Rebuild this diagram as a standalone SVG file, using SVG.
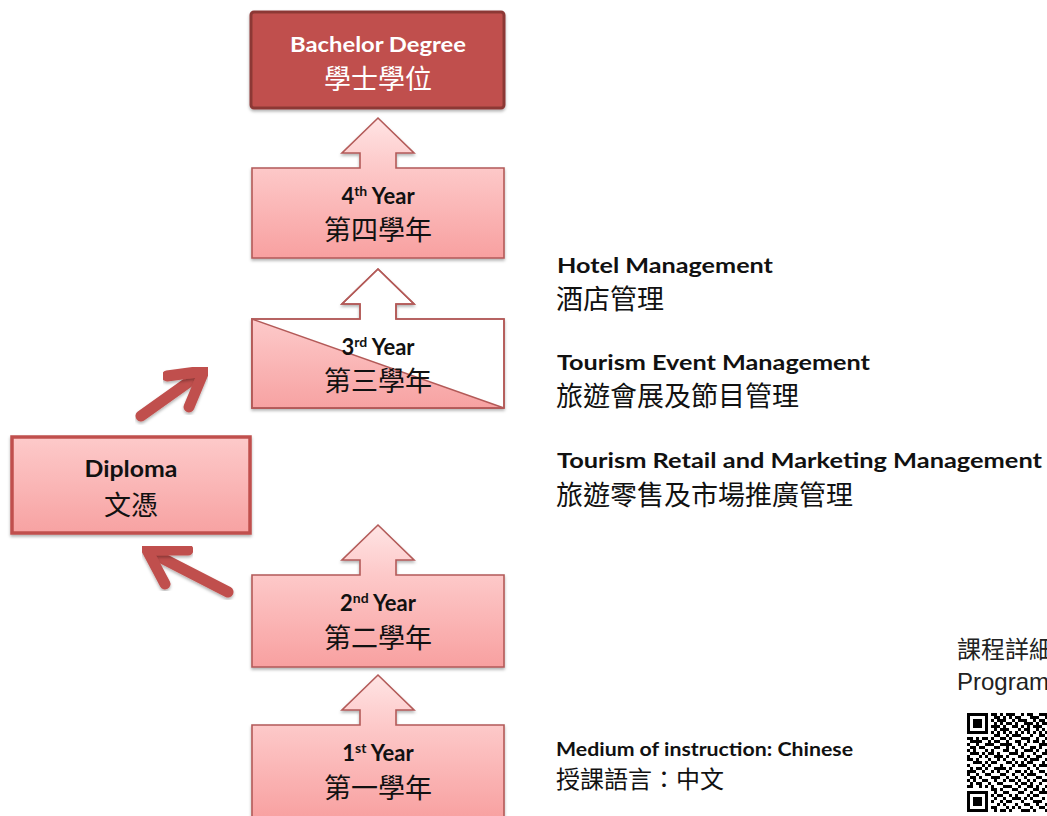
<svg xmlns="http://www.w3.org/2000/svg" width="1047" height="816" viewBox="0 0 1047 816">
<defs>
  <linearGradient id="pinkGrad" x1="0" y1="0" x2="0" y2="1">
    <stop offset="0" stop-color="#ffe4e4"/>
    <stop offset="0.35" stop-color="#fdc9c9"/>
    <stop offset="1" stop-color="#f8a0a0"/>
  </linearGradient>
  <linearGradient id="boxGrad" x1="0" y1="0" x2="0" y2="1">
    <stop offset="0" stop-color="#fdcaca"/>
    <stop offset="1" stop-color="#f7a2a2"/>
  </linearGradient>
  <linearGradient id="triGrad" x1="0" y1="0" x2="0" y2="1">
    <stop offset="0" stop-color="#fdcaca"/>
    <stop offset="1" stop-color="#f7a2a2"/>
  </linearGradient>
  <filter id="shadow" x="-10%" y="-10%" width="120%" height="130%">
    <feDropShadow dx="0" dy="2" stdDeviation="1.5" flood-color="#000" flood-opacity="0.3"/>
  </filter>
  <style>
    .yearbox { fill: url(#pinkGrad); stroke: #b35a58; stroke-width: 1.6; filter: url(#shadow); }
    .en { font-family: Lato, "Open Sans", "Liberation Sans", sans-serif; font-weight: bold; fill: #111; }
    .zh { font-family: "Noto Sans CJK TC", "Noto Sans CJK SC", sans-serif; fill: #111; }
    .ctr { text-anchor: middle; }
    .box-en { font-size: 22px; }
    .box-zh { font-size: 27px; }
    .side-en { font-size: 21px; }
    .side-zh { font-size: 27px; }
    .connector { fill: none; stroke: #c0504d; stroke-width: 11; stroke-linecap: round; filter: url(#shadow); }
  </style>
</defs>
<rect width="1047" height="816" fill="#ffffff"/>

<g id="bachelor">
  <rect x="251" y="12" width="253" height="96" rx="3" fill="#c0504d" stroke="#8c3836" stroke-width="3" filter="url(#shadow)"/>
  <text class="en ctr" x="378" y="52" font-size="21" style="fill:#fff" textLength="176" lengthAdjust="spacingAndGlyphs">Bachelor Degree</text>
  <text class="zh ctr box-zh" x="378" y="89" style="fill:#fff">學士學位</text>
</g>

<g id="year4">
  <path class="yearbox" d="M252,168 H360 V153 H342 L378,118 L414,153 H396 V168 H504 V258 H252 Z"/>
  <text class="en ctr box-en" x="378" y="204">4<tspan font-size="14" dy="-8">th</tspan><tspan dy="8"> Year</tspan></text>
  <text class="zh ctr box-zh" x="378" y="240">第四學年</text>
</g>

<g id="year3">
  <path d="M252,319 H360 V304 H342 L378,269 L414,304 H396 V319 H504 V408 H252 Z" fill="#ffffff" stroke="#b35a58" stroke-width="1.6" filter="url(#shadow)"/>
  <path d="M252,319 L504,408 H252 Z" fill="url(#triGrad)" stroke="#b35a58" stroke-width="1.4"/>
  <path d="M252,319 H360 V304 H342 L378,269 L414,304 H396 V319 H504 V408 H252 Z" fill="none" stroke="#b35a58" stroke-width="1.6"/>
  <text class="en ctr box-en" x="378" y="355">3<tspan font-size="14" dy="-8">rd</tspan><tspan dy="8"> Year</tspan></text>
  <text class="zh ctr box-zh" x="378" y="391">第三學年</text>
</g>

<g id="diploma">
  <rect x="12" y="437" width="238" height="96" fill="url(#boxGrad)" stroke="#c0504d" stroke-width="3.5" filter="url(#shadow)"/>
  <text class="en ctr" x="131" y="477" font-size="23" textLength="93" lengthAdjust="spacingAndGlyphs">Diploma</text>
  <text class="zh ctr box-zh" x="131" y="515">文憑</text>
</g>

<g id="year2">
  <path class="yearbox" d="M252,575 H360 V560 H342 L378,525 L414,560 H396 V575 H504 V667 H252 Z"/>
  <text class="en ctr box-en" x="378" y="611">2<tspan font-size="14" dy="-8">nd</tspan><tspan dy="8"> Year</tspan></text>
  <text class="zh ctr box-zh" x="378" y="648">第二學年</text>
</g>

<g id="year1">
  <path class="yearbox" d="M252,725 H360 V710 H342 L378,675 L414,710 H396 V725 H504 V820 H252 Z"/>
  <text class="en ctr box-en" x="378" y="761">1<tspan font-size="14" dy="-8">st</tspan><tspan dy="8"> Year</tspan></text>
  <text class="zh ctr box-zh" x="378" y="798">第一學年</text>
</g>

<g id="connectors">
  <path class="connector" d="M141,416 L200,374"/>
  <path class="connector" d="M167,376 L204,371 L189,407" stroke-linejoin="miter" stroke-miterlimit="10"/>
  <path class="connector" d="M228,592 L152,553"/>
  <path class="connector" d="M188,550 L147,550 L165,584" stroke-linejoin="miter" stroke-miterlimit="10"/>
</g>

<g id="streams">
  <text class="en side-en" x="557" y="273" textLength="216" lengthAdjust="spacingAndGlyphs">Hotel Management</text>
  <text class="zh side-zh" x="556" y="309">酒店管理</text>
  <text class="en side-en" x="557" y="370" textLength="313" lengthAdjust="spacingAndGlyphs">Tourism Event Management</text>
  <text class="zh side-zh" x="556" y="406">旅遊會展及節目管理</text>
  <text class="en side-en" x="557" y="468" textLength="485" lengthAdjust="spacingAndGlyphs">Tourism Retail and Marketing Management</text>
  <text class="zh side-zh" x="556" y="505">旅遊零售及市場推廣管理</text>
</g>

<g id="medium">
  <text class="en" x="556" y="756" font-size="18" textLength="297" lengthAdjust="spacingAndGlyphs">Medium of instruction: Chinese</text>
  <text class="zh" x="556" y="788" font-size="24">授課語言：中文</text>
</g>

<g id="details">
  <text x="957" y="658" font-family="'Noto Sans CJK TC', 'Noto Sans CJK SC', sans-serif" font-size="24" fill="#222">課程詳細</text>
  <text x="957" y="690" font-family="'Liberation Sans', Arial, sans-serif" font-size="24" fill="#222">Programme</text>
  <path fill="none" stroke="#000" stroke-width="3" d="
M967 714.5h21M991 714.5h6M1000 714.5h3M1006 714.5h9M1021 714.5h3M1027 714.5h6M1039 714.5h9
M967 717.5h3M985 717.5h3M994 717.5h6M1003 717.5h3M1009 717.5h3M1015 717.5h6M1030 717.5h9M1045 717.5h3
M967 720.5h3M973 720.5h9M985 720.5h3M991 720.5h3M997 720.5h9M1012 720.5h3M1018 720.5h9M1033 720.5h3M1039 720.5h6
M967 723.5h3M973 723.5h9M985 723.5h3M994 723.5h3M1000 723.5h3M1006 723.5h6M1015 723.5h3M1024 723.5h9M1036 723.5h3M1042 723.5h6
M967 726.5h3M973 726.5h9M985 726.5h3M991 726.5h9M1003 726.5h3M1012 726.5h6M1021 726.5h3M1027 726.5h3M1033 726.5h9
M967 729.5h3M985 729.5h3M994 729.5h3M1000 729.5h9M1018 729.5h3M1024 729.5h6M1036 729.5h3M1042 729.5h3
M967 732.5h21M991 732.5h3M997 732.5h3M1003 732.5h3M1009 732.5h3M1015 732.5h3M1021 732.5h3M1027 732.5h3M1033 732.5h3M1039 732.5h3M1045 732.5h3
M994 735.5h6M1006 735.5h3M1012 735.5h9M1030 735.5h3M1039 735.5h6
M967 738.5h6M976 738.5h3M982 738.5h6M991 738.5h3M1000 738.5h6M1009 738.5h3M1021 738.5h9M1036 738.5h3M1045 738.5h3
M970 741.5h12M988 741.5h3M994 741.5h6M1006 741.5h3M1015 741.5h6M1027 741.5h3M1033 741.5h6M1042 741.5h3
M967 744.5h3M976 744.5h3M985 744.5h9M1000 744.5h12M1018 744.5h3M1024 744.5h3M1039 744.5h9
M970 747.5h6M979 747.5h6M994 747.5h6M1006 747.5h3M1012 747.5h3M1021 747.5h3M1030 747.5h6M1039 747.5h3
M967 750.5h3M973 750.5h3M985 750.5h3M991 750.5h3M1003 750.5h6M1015 750.5h3M1024 750.5h9M1036 750.5h3M1045 750.5h3
M970 753.5h9M982 753.5h3M988 753.5h6M997 753.5h3M1009 753.5h9M1021 753.5h3M1033 753.5h3M1042 753.5h6
M967 756.5h3M979 756.5h3M985 756.5h3M994 756.5h9M1006 756.5h3M1018 756.5h6M1027 756.5h3M1036 756.5h6
M967 759.5h6M976 759.5h3M988 759.5h3M997 759.5h3M1003 759.5h3M1012 759.5h3M1024 759.5h3M1030 759.5h9M1045 759.5h3
M973 762.5h9M985 762.5h3M991 762.5h6M1006 762.5h6M1015 762.5h3M1021 762.5h3M1027 762.5h6M1042 762.5h3
M967 765.5h3M982 765.5h3M988 765.5h3M1000 765.5h3M1012 765.5h3M1018 765.5h9M1033 765.5h3M1039 765.5h9
M970 768.5h3M976 768.5h6M985 768.5h3M994 768.5h12M1009 768.5h3M1027 768.5h3M1036 768.5h3
M967 771.5h9M982 771.5h3M991 771.5h3M997 771.5h3M1006 771.5h3M1015 771.5h6M1024 771.5h3M1030 771.5h3M1039 771.5h6
M967 774.5h3M976 774.5h3M985 774.5h6M1000 774.5h6M1012 774.5h3M1021 774.5h3M1027 774.5h9M1045 774.5h3
M970 777.5h6M979 777.5h3M991 777.5h9M1006 777.5h3M1015 777.5h3M1024 777.5h3M1036 777.5h6
M967 780.5h3M973 780.5h3M982 780.5h6M994 780.5h3M1003 780.5h3M1009 780.5h6M1018 780.5h3M1027 780.5h3M1033 780.5h3M1042 780.5h6
M970 783.5h3M976 783.5h6M988 783.5h3M997 783.5h6M1015 783.5h3M1021 783.5h6M1030 783.5h3M1039 783.5h3
M967 786.5h6M979 786.5h3M985 786.5h3M991 786.5h3M1003 786.5h9M1018 786.5h3M1027 786.5h6M1036 786.5h3M1045 786.5h3
M991 789.5h6M1000 789.5h3M1012 789.5h6M1024 789.5h3M1033 789.5h6M1042 789.5h3
M967 792.5h21M994 792.5h3M1003 792.5h6M1018 792.5h6M1030 792.5h3M1039 792.5h9
M967 795.5h3M985 795.5h3M991 795.5h3M997 795.5h6M1009 795.5h3M1015 795.5h3M1027 795.5h3M1033 795.5h6
M967 798.5h3M973 798.5h9M985 798.5h3M994 798.5h3M1003 798.5h3M1012 798.5h9M1024 798.5h3M1030 798.5h3M1042 798.5h3
M967 801.5h3M973 801.5h9M985 801.5h3M991 801.5h3M1000 801.5h3M1006 801.5h6M1021 801.5h3M1033 801.5h9
M967 804.5h3M973 804.5h9M985 804.5h3M997 804.5h3M1003 804.5h3M1015 804.5h3M1024 804.5h6M1036 804.5h3M1045 804.5h3
M967 807.5h3M985 807.5h3M991 807.5h6M1006 807.5h3M1012 807.5h3M1018 807.5h3M1030 807.5h3M1039 807.5h6
M967 810.5h21M994 810.5h3M1000 810.5h6M1009 810.5h3M1021 810.5h9M1033 810.5h3M1045 810.5h3"/>
</g>
</svg>
